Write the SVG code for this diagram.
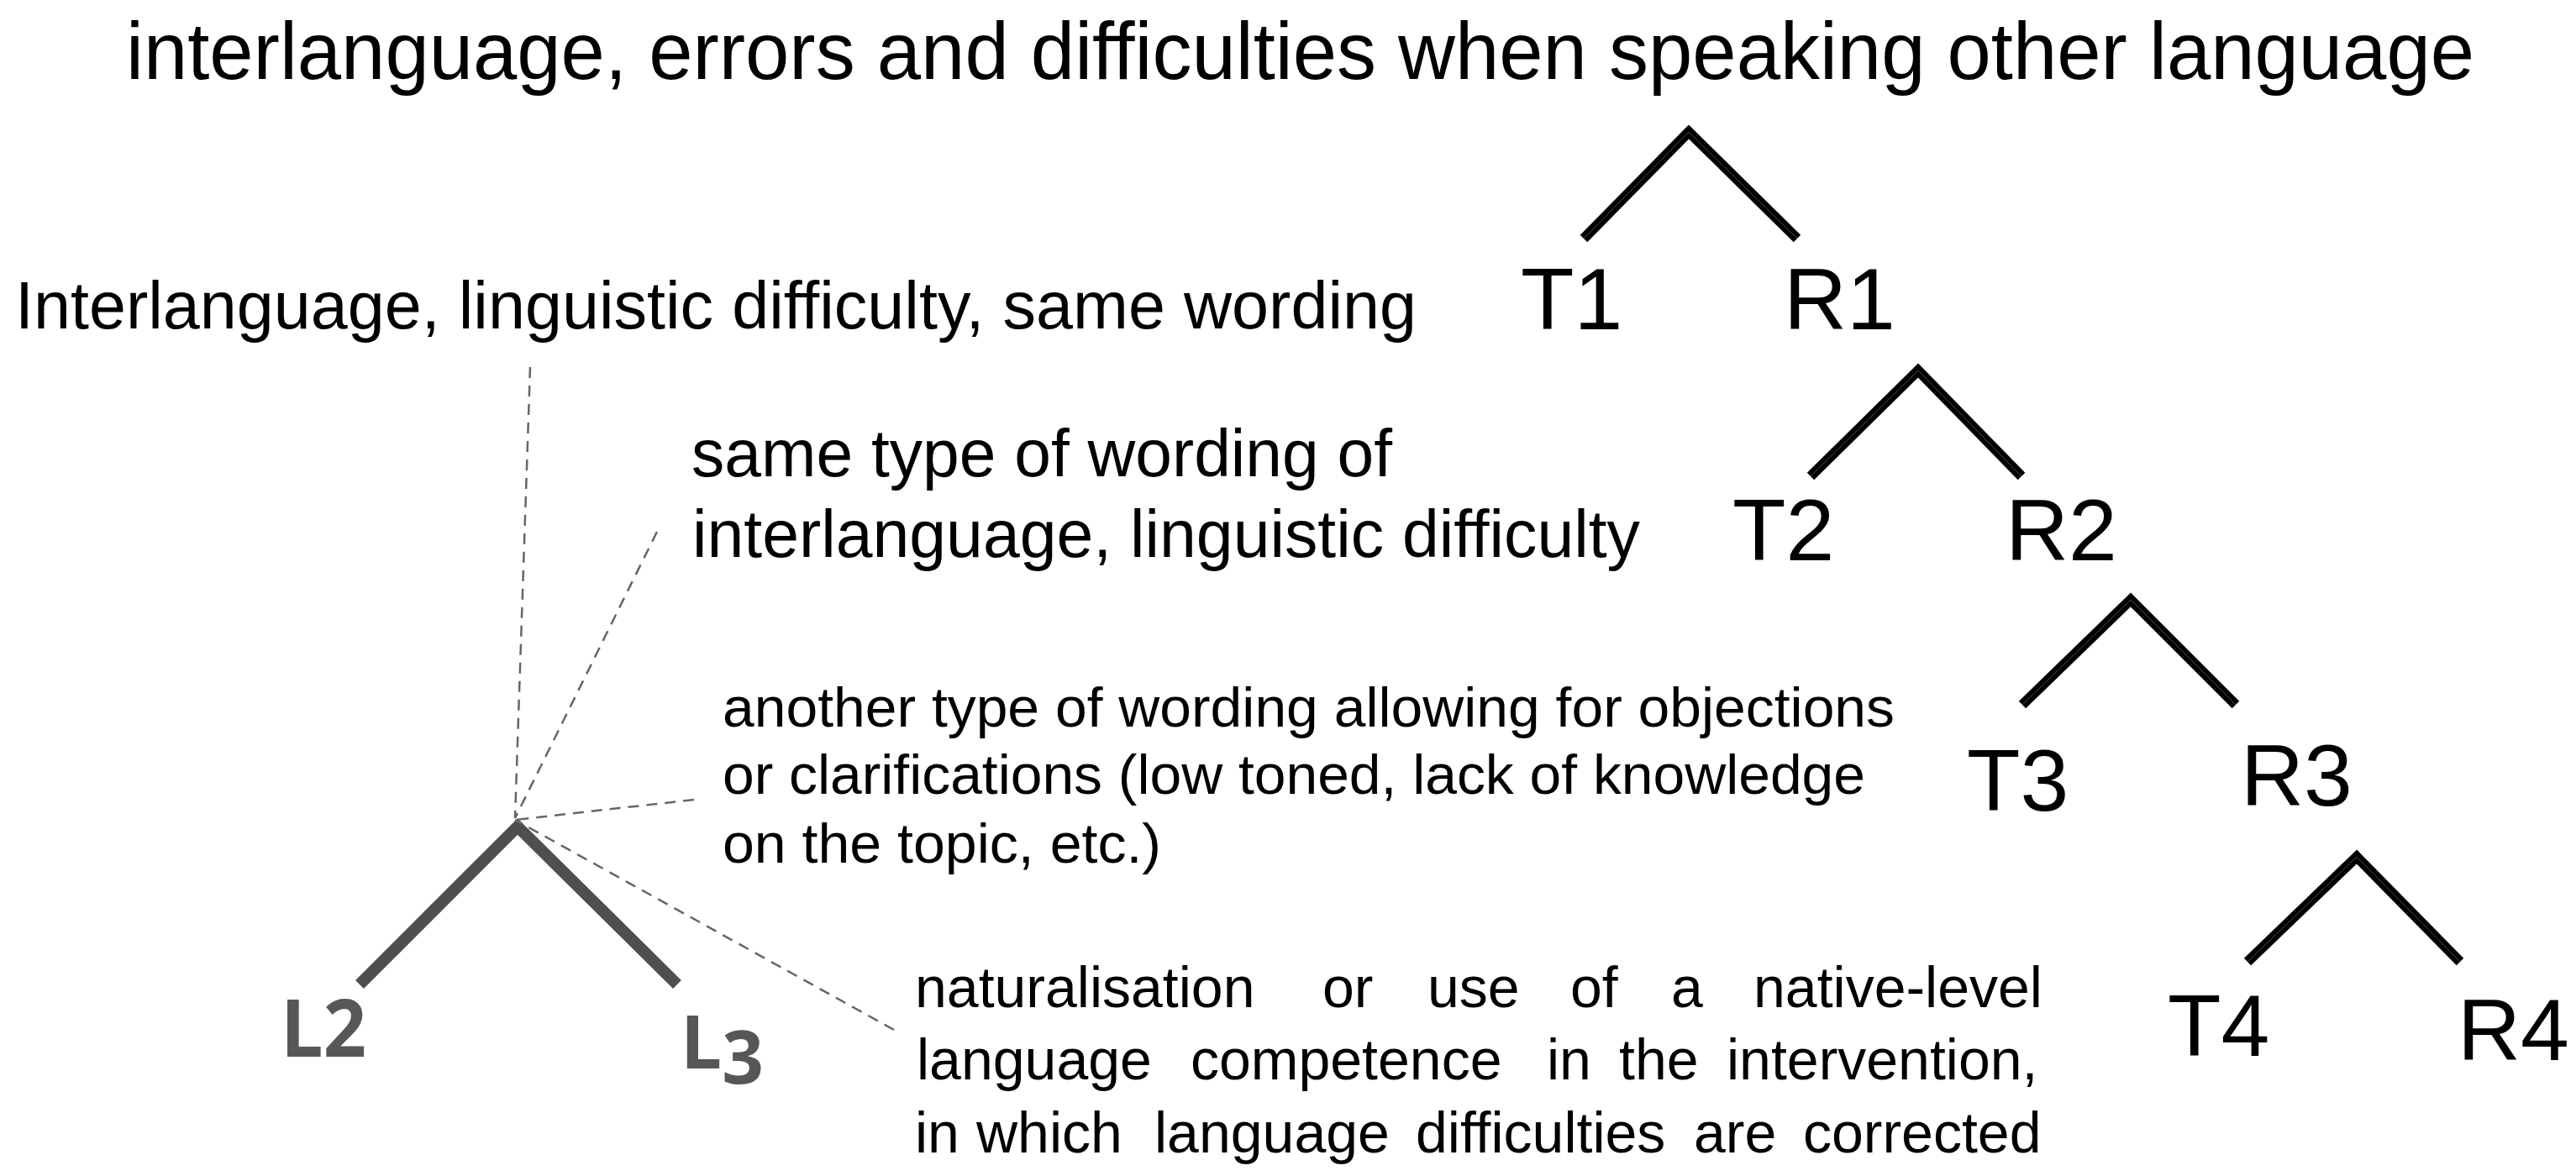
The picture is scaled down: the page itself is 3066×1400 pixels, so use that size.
<svg xmlns="http://www.w3.org/2000/svg" width="3066" height="1400" viewBox="0 0 3066 1400">
<style>
text{font-family:"Liberation Sans",Arial,sans-serif;fill:#000}
.title{font-size:96px}
.lab{font-size:79px}
.lab3{font-size:66px}
.lab4{font-size:68px}
.tr{font-size:104px}
.lx{font-family:"Open Sans","DejaVu Sans",sans-serif;font-weight:700;fill:#575757}
.br{fill:none;stroke:#000;stroke-width:12;stroke-linejoin:miter;stroke-linecap:butt}
.brc{fill:none;stroke:#4a4a4a;stroke-width:1}
.gbr{fill:none;stroke:#4f4f4f;stroke-width:14;stroke-linejoin:miter;stroke-linecap:butt}
.dash{fill:none;stroke:#666;stroke-width:2.5;stroke-dasharray:13 9}
</style>
<rect width="3066" height="1400" fill="#fff"/>
<g id="connectors">
  <path class="br" d="M1885,284 L2010,157 L2139,284"/>
  <path class="brc" d="M1885,284 L2010,157 L2139,284"/>
  <path class="br" d="M2155,567 L2283,441 L2406,567"/>
  <path class="brc" d="M2155,567 L2283,441 L2406,567"/>
  <path class="br" d="M2407,839 L2536,714 L2661,839"/>
  <path class="brc" d="M2407,839 L2536,714 L2661,839"/>
  <path class="br" d="M2675,1145 L2805,1020 L2928,1145"/>
  <path class="brc" d="M2675,1145 L2805,1020 L2928,1145"/>
  <path class="gbr" d="M428,1172 L616,984 L806,1172"/>
  <path class="dash" d="M631,437 L613,974"/>
  <path class="dash" d="M782,633 L613,974"/>
  <path class="dash" d="M826,952 L613,976"/>
  <path class="dash" d="M1064,1226 L613,976"/>
</g>
<g id="title"><text class="title" x="150" y="94" textLength="2795" lengthAdjust="spacingAndGlyphs">interlanguage, errors and difficulties when speaking other language</text></g>
<g id="label1"><text class="lab" x="18" y="391" textLength="1668" lengthAdjust="spacingAndGlyphs">Interlanguage, linguistic difficulty, same wording</text></g>
<g id="label2">
  <text class="lab" x="823" y="567" textLength="834" lengthAdjust="spacingAndGlyphs">same type of wording of</text>
  <text class="lab" x="824" y="663" textLength="1128" lengthAdjust="spacingAndGlyphs">interlanguage, linguistic difficulty</text>
</g>
<g id="label3">
  <text class="lab3" x="860" y="865" textLength="1395" lengthAdjust="spacingAndGlyphs">another type of wording allowing for objections</text>
  <text class="lab3" x="860" y="945" textLength="1360" lengthAdjust="spacingAndGlyphs">or clarifications (low toned, lack of knowledge</text>
  <text class="lab3" x="860" y="1027" textLength="522" lengthAdjust="spacingAndGlyphs">on the topic, etc.)</text>
</g>
<g id="label4">
  <text class="lab4" y="1199"><tspan x="1089">naturalisation</tspan><tspan x="1574">or</tspan><tspan x="1699">use</tspan><tspan x="1869">of</tspan><tspan x="1989">a</tspan><tspan x="2087">native-level</tspan></text>
  <text class="lab4" y="1285"><tspan x="1091">language</tspan><tspan x="1417">competence</tspan><tspan x="1841">in</tspan><tspan x="1927">the</tspan><tspan x="2055">intervention,</tspan></text>
  <text class="lab4" y="1372"><tspan x="1089">in</tspan><tspan x="1162">which</tspan><tspan x="1374">language</tspan><tspan x="1685">difficulties</tspan><tspan x="2016">are</tspan><tspan x="2146">corrected</tspan></text>
</g>
<g id="T1"><text class="tr" x="1810" y="392">T1</text></g>
<g id="R1"><text class="tr" x="2123" y="392">R1</text></g>
<g id="T2"><text class="tr" x="2062" y="667">T2</text></g>
<g id="R2"><text class="tr" x="2387" y="667">R2</text></g>
<g id="T3"><text class="tr" x="2341" y="965">T3</text></g>
<g id="R3"><text class="tr" x="2667" y="959">R3</text></g>
<g id="T4"><text class="tr" x="2580" y="1257">T4</text></g>
<g id="R4"><text class="tr" x="2925" y="1262">R4</text></g>
<g id="L2"><text class="lx" x="334" y="1258" font-size="95" textLength="102" lengthAdjust="spacingAndGlyphs">L2</text></g>
<g id="L3"><text class="lx" x="810" y="1272" font-size="87">L<tspan dy="18">3</tspan></text></g>
</svg>
